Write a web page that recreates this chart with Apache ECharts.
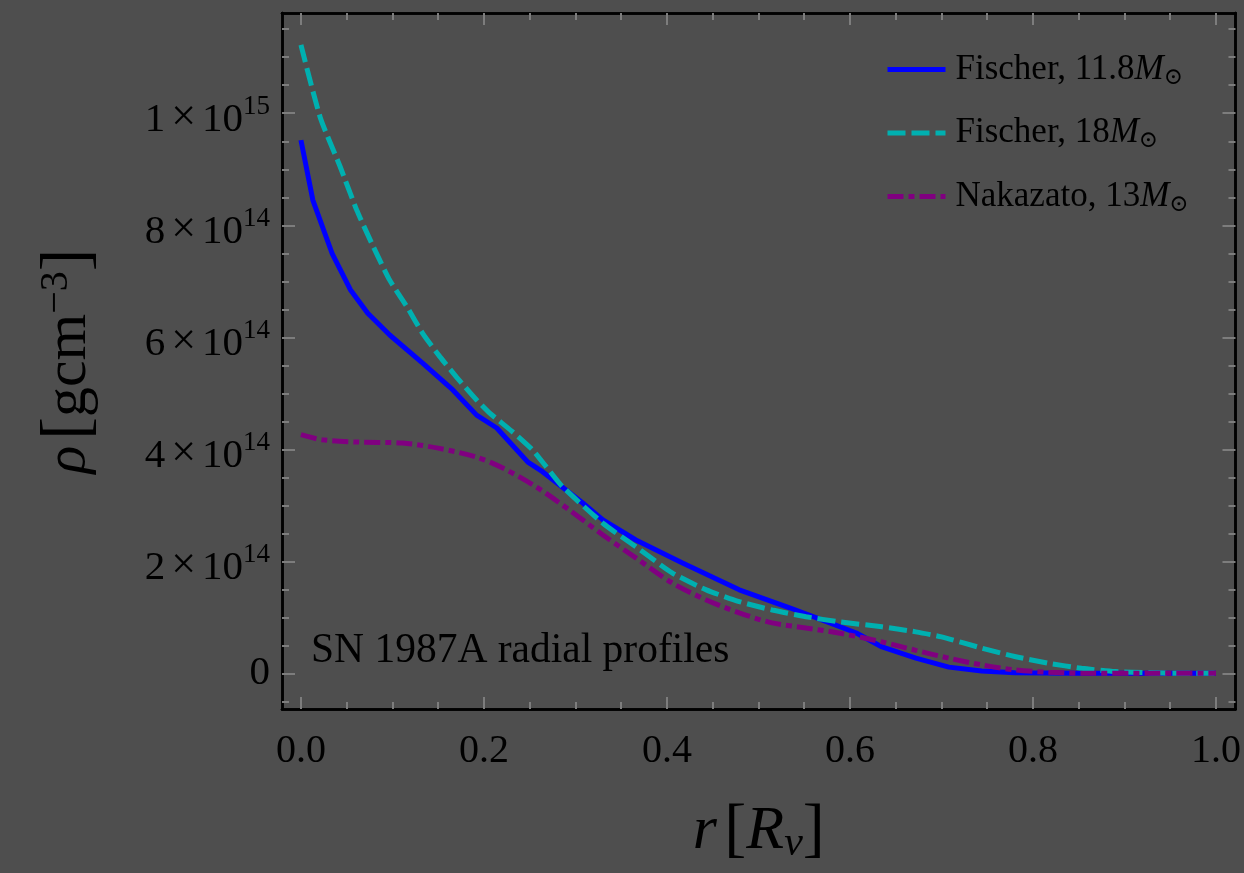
<!DOCTYPE html>
<html>
<head>
<meta charset="utf-8">
<script src="https://cdn.jsdelivr.net/npm/echarts@6/dist/echarts.min.js"></script>
<style>
  html, body { margin: 0; padding: 0; background: #4e4e4e; }
  #chart { width: 1244px; height: 873px; }
</style>
</head>
<body>
<div id="chart"></div>
<script>
// Radial density profiles. Radius r in units of R_nu, density rho in units of 1e14 g cm^-3.
const fischer118R   = [0.0, 0.013, 0.034, 0.054, 0.073, 0.097, 0.133, 0.166, 0.192, 0.214, 0.248, 0.264, 0.308, 0.33, 0.366, 0.417, 0.479, 0.534, 0.57, 0.607, 0.635, 0.672, 0.708, 0.744, 0.78, 0.85, 0.92, 1.0];
const fischer118Rho = [9.52, 8.45, 7.5, 6.85, 6.43, 6.04, 5.54, 5.06, 4.61, 4.38, 3.77, 3.6, 3.04, 2.74, 2.38, 1.97, 1.49, 1.17, 0.95, 0.72, 0.47, 0.27, 0.11, 0.04, 0.01, 0.0, 0.0, 0.0];

const fischer18R   = [0.0, 0.021, 0.043, 0.061, 0.079, 0.097, 0.116, 0.133, 0.152, 0.17, 0.192, 0.206, 0.23, 0.253, 0.268, 0.286, 0.33, 0.366, 0.406, 0.443, 0.479, 0.515, 0.552, 0.588, 0.635, 0.672, 0.7, 0.744, 0.78, 0.817, 0.853, 0.89, 0.926, 0.96, 1.0];
const fischer18Rho = [11.22, 9.93, 9.04, 8.27, 7.62, 7.02, 6.54, 6.07, 5.65, 5.29, 4.88, 4.65, 4.33, 3.99, 3.69, 3.33, 2.68, 2.26, 1.79, 1.49, 1.28, 1.13, 1.01, 0.92, 0.83, 0.74, 0.65, 0.45, 0.3, 0.18, 0.09, 0.03, 0.01, 0.0, 0.0];

const nakazato13R   = [0.0, 0.023, 0.06, 0.111, 0.15, 0.192, 0.22, 0.257, 0.293, 0.33, 0.366, 0.406, 0.443, 0.479, 0.515, 0.552, 0.591, 0.635, 0.672, 0.708, 0.744, 0.78, 0.817, 0.86, 0.93, 1.0];
const nakazato13Rho = [4.26, 4.17, 4.13, 4.11, 4.02, 3.86, 3.67, 3.33, 2.92, 2.47, 2.06, 1.61, 1.31, 1.08, 0.9, 0.81, 0.71, 0.56, 0.41, 0.27, 0.15, 0.06, 0.02, 0.0, 0.0, 0.0];

const seriesNames = ['Fischer, 11.8', 'Fischer, 18', 'Nakazato, 13'];

// Axis ticks
const xMajorTicks = [0.0, 0.2, 0.4, 0.6, 0.8, 1.0];
const xMinorTicks = [0.05, 0.1, 0.15, 0.25, 0.3, 0.35, 0.45, 0.5, 0.55, 0.65, 0.7, 0.75, 0.85, 0.9, 0.95];
const xTickLabels = ['0.0', '0.2', '0.4', '0.6', '0.8', '1.0'];
const yMajorTicks = [0, 2, 4, 6, 8, 10];
const yMinorTicks = [-0.5, 0.5, 1, 1.5, 2.5, 3, 3.5, 4.5, 5, 5.5, 6.5, 7, 7.5, 8.5, 9, 9.5, 10.5, 11, 11.5];
const yTickMantissa = ['0', '2', '4', '6', '8', '1'];
const yTickExponent = ['', '14', '14', '14', '14', '15'];

const X_MIN = -0.0207, X_MAX = 1.0213;
const Y_MIN = -0.6375, Y_MAX = 11.79;

const SERIF = '"Liberation Serif", "DejaVu Serif", serif';
const TICK_COLOR = '#7d7d7d';

function zip(xs, ys) { return xs.map((x, i) => [x, ys[i]]); }

function xAxis(position, ticks, len, labels) {
  return {
    type: 'value', position, min: X_MIN, max: X_MAX,
    axisLine: { show: true, onZero: false, lineStyle: { color: '#000', width: 2.5 } },
    axisTick: { show: true, inside: true, length: len, customValues: ticks,
                lineStyle: { color: TICK_COLOR, width: 2 } },
    axisLabel: labels ? {
      show: true, customValues: xMajorTicks, margin: 22,
      fontFamily: SERIF, fontSize: 40, color: '#000',
      formatter: v => xTickLabels[xMajorTicks.findIndex(t => Math.abs(t - v) < 1e-9)]
    } : { show: false },
    splitLine: { show: false }
  };
}

function yAxis(position, ticks, len, labels) {
  return {
    type: 'value', position, min: Y_MIN, max: Y_MAX,
    axisLine: { show: true, onZero: false, lineStyle: { color: '#000', width: 2.5 } },
    axisTick: { show: true, inside: true, length: len, customValues: ticks,
                lineStyle: { color: TICK_COLOR, width: 2 } },
    axisLabel: labels ? {
      show: true, customValues: yMajorTicks, margin: 12,
      fontFamily: SERIF, color: '#000',
      formatter: v => {
        const i = yMajorTicks.indexOf(v);
        if (yTickExponent[i] === '') return '{z|' + yTickMantissa[i] + '}';
        return '{n|' + yTickMantissa[i] + '}{x|×}{n|10}{s|' + yTickExponent[i] + '}';
      },
      rich: {
        z: { fontFamily: SERIF, fontSize: 41, lineHeight: 44, color: '#000' },
        n: { fontFamily: SERIF, fontSize: 41, lineHeight: 44, color: '#000', verticalAlign: 'bottom' },
        x: { fontFamily: SERIF, fontSize: 44, lineHeight: 44, color: '#000', verticalAlign: 'bottom', padding: [0, 6, 0, 6] },
        s: { fontFamily: SERIF, fontSize: 27, lineHeight: 55, color: '#000', verticalAlign: 'top', padding: [8, 0, 0, 0] }
      }
    } : { show: false },
    splitLine: { show: false }
  };
}

const legendRich = {
  t: { fontFamily: SERIF, fontSize: 35, color: '#000', padding: [0, 0, 0, 5], lineHeight: 40 },
  m: { fontFamily: SERIF, fontSize: 35, fontStyle: 'italic', color: '#000', lineHeight: 40 },
  o: { fontFamily: '"DejaVu Serif", serif', fontSize: 23, color: '#000', verticalAlign: 'bottom', lineHeight: 30 }
};

const chart = echarts.init(document.getElementById('chart'), null, { renderer: 'canvas' });

chart.setOption({
  backgroundColor: '#4e4e4e',
  animation: false,
  grid: { left: 282, top: 13, width: 955, height: 696, containLabel: false },
  xAxis: [
    Object.assign(xAxis('bottom', xMajorTicks, 12, true), {
      name: '{i|r}{g| }{b|[}{i|R}{u|ν}{b|]}',
      nameLocation: 'middle', nameGap: 90,
      nameTextStyle: {
        rich: {
          i: { fontFamily: SERIF, fontSize: 62, fontStyle: 'italic', color: '#000' },
          g: { fontFamily: SERIF, fontSize: 30, color: '#000' },
          b: { fontFamily: SERIF, fontSize: 66, color: '#000' },
          u: { fontFamily: SERIF, fontSize: 42, fontStyle: 'italic', color: '#000', verticalAlign: 'bottom', lineHeight: 58 }
        }
      }
    }),
    xAxis('bottom', xMinorTicks, 7, false),
    xAxis('top', xMajorTicks, 12, false),
    xAxis('top', xMinorTicks, 7, false)
  ],
  yAxis: [
    Object.assign(yAxis('left', yMajorTicks, 13, true), {
      name: '{i|ρ}{g| }{b|[}{r|gcm}{s|−3}{b|]}',
      nameLocation: 'middle', nameGap: 180, nameRotate: 90,
      nameTextStyle: {
        rich: {
          i: { fontFamily: SERIF, fontSize: 58, fontStyle: 'italic', color: '#000', lineHeight: 66 },
          g: { fontFamily: SERIF, fontSize: 24, color: '#000', lineHeight: 66 },
          r: { fontFamily: SERIF, fontSize: 60, color: '#000', lineHeight: 66 },
          b: { fontFamily: SERIF, fontSize: 68, color: '#000', lineHeight: 66 },
          s: { fontFamily: SERIF, fontSize: 40, color: '#000', verticalAlign: 'top', lineHeight: 40 }
        }
      }
    }),
    yAxis('left', yMinorTicks, 7, false),
    yAxis('right', yMajorTicks, 13, false),
    yAxis('right', yMinorTicks, 7, false)
  ],
  legend: {
    orient: 'vertical', left: 885, top: 52, padding: 0,
    itemWidth: 58, itemHeight: 14, itemGap: 26,
    data: seriesNames,
    formatter: name => '{t|' + name + '}{m|M}{o|⊙}',
    textStyle: { color: '#000', rich: legendRich },
    itemStyle: { opacity: 0, color: 'rgba(0,0,0,0)', borderWidth: 0 },
    lineStyle: { width: 5 }
  },
  graphic: [{
    type: 'text', left: 311, top: 630, silent: true,
    style: { text: 'SN 1987A radial profiles', fontFamily: SERIF, fontSize: 41.5, fill: '#000' }
  }],
  series: [
    {
      name: seriesNames[0], type: 'line', data: zip(fischer118R, fischer118Rho),
      symbol: 'none', smooth: false,
      lineStyle: { color: '#0000ff', width: 5, cap: 'butt' },
      itemStyle: { color: '#0000ff' }
    },
    {
      name: seriesNames[1], type: 'line', data: zip(fischer18R, fischer18Rho),
      symbol: 'none', smooth: 0.2,
      lineStyle: { color: '#00b0b0', width: 5, type: [18, 6], cap: 'butt' },
      itemStyle: { color: '#00b0b0' }
    },
    {
      name: seriesNames[2], type: 'line', data: zip(nakazato13R, nakazato13Rho),
      symbol: 'none', smooth: 0.3,
      lineStyle: { color: '#800080', width: 5, type: [16, 5, 6, 5], cap: 'butt' },
      itemStyle: { color: '#800080' }
    }
  ]
});
</script>
</body>
</html>
